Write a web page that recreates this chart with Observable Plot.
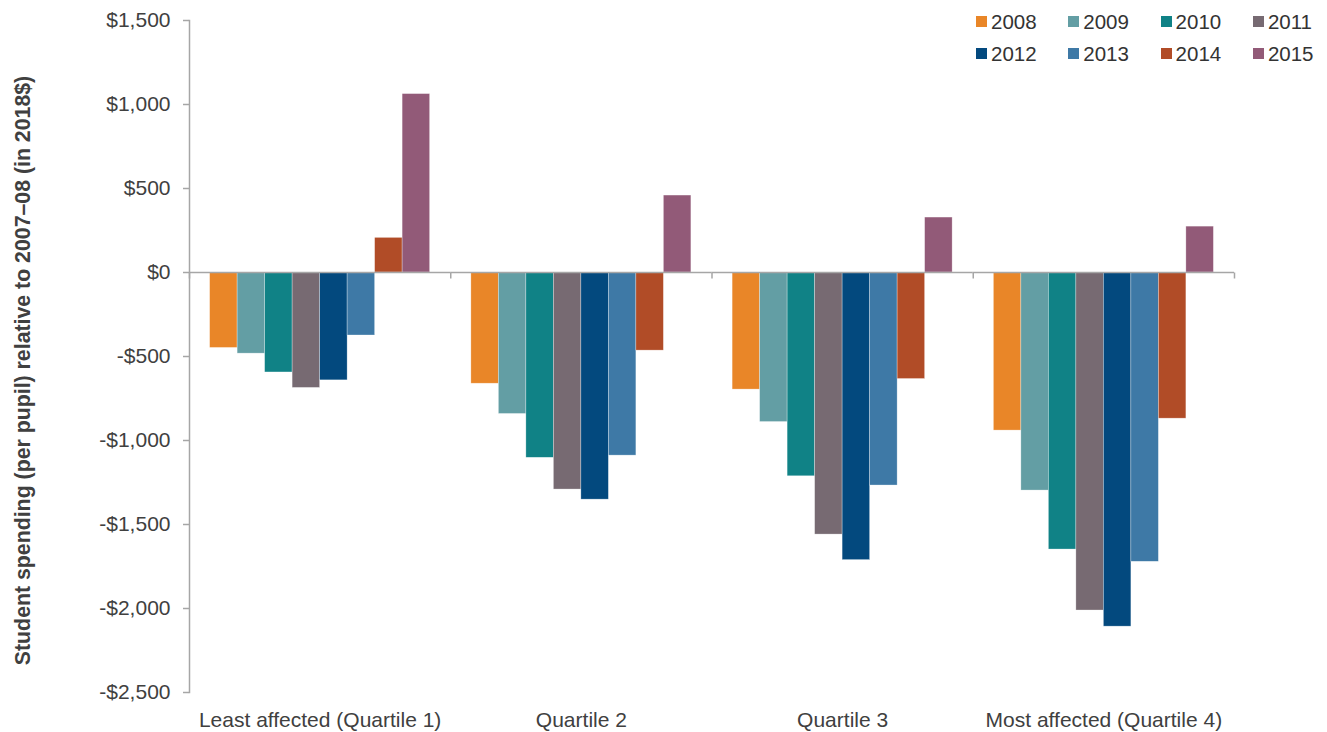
<!DOCTYPE html>
<html>
<head>
<meta charset="utf-8">
<script src="https://cdn.jsdelivr.net/npm/d3@7"></script>
<script src="https://cdn.jsdelivr.net/npm/@observablehq/plot@0.6"></script>
<style>
  body { margin: 0; background: #fff; }
  #chart { position: relative; width: 1327px; height: 732px; font-family: "Liberation Sans", Arial, sans-serif; }
</style>
</head>
<body>
<div id="chart"></div>
<script>
// Quartile groups (by how strongly districts were affected) and school years
const quartiles = ["Least affected (Quartile 1)", "Quartile 2", "Quartile 3", "Most affected (Quartile 4)"];
const years = ["2008", "2009", "2010", "2011", "2012", "2013", "2014", "2015"];

// Change in per-pupil spending relative to 2007–08, in 2018 dollars, one value per year
const quartile1 = [-449, -483, -595, -687, -642, -375, 206, 1062];
const quartile2 = [-662, -842, -1103, -1292, -1352, -1090, -465, 458];
const quartile3 = [-697, -890, -1213, -1560, -1712, -1268, -634, 327];
const quartile4 = [-941, -1298, -1649, -2012, -2108, -1722, -870, 273];

const yearColors = ["#e98628", "#639ea4", "#108286", "#776a72", "#03497e", "#3e79a6", "#b14c27", "#925a78"];
const yTicks = [-2500, -2000, -1500, -1000, -500, 0, 500, 1000, 1500];
const yTitle = "Student spending (per pupil) relative to 2007–08 (in 2018$)";

const series = [quartile1, quartile2, quartile3, quartile4];
const rows = quartiles.flatMap((q, i) =>
  series[i].map((value, j) => ({quartile: q, year: years[j], value}))
);

const axisGray = "#a6a6a6";
const font = "'Liberation Sans', Arial, sans-serif";
const money = d => (d < 0 ? "-" : "") + "$" + d3.format(",")(Math.abs(d));
// short downward tick used on the zero line at each group boundary
const boundaryTick = {draw(ctx) { ctx.moveTo(0, 0); ctx.lineTo(0, 6); }};

const chart = Plot.plot({
  width: 1327,
  height: 732,
  marginLeft: 189,
  marginRight: 93,
  marginTop: 20,
  marginBottom: 40,
  style: {fontFamily: font, fontSize: "21px", color: "#404040", background: "white"},
  fx: {domain: quartiles, padding: 0, round: false},
  x: {domain: years, paddingInner: 0, paddingOuter: 0.75, round: false, axis: null},
  y: {domain: [-2500, 1500]},
  color: {domain: years, range: yearColors},
  marks: [
    Plot.frame({anchor: "left", facetAnchor: "left", stroke: axisGray, strokeWidth: 1.5}),
    Plot.axisY({ticks: yTicks, tickFormat: money, tickSize: 6, tickPadding: 13, stroke: axisGray, strokeWidth: 1.5, label: null}),
    Plot.axisFx({anchor: "bottom", tickSize: 0, tickPadding: 20, label: null}),
    Plot.barY(rows, {fx: "quartile", x: "year", y: "value", fill: "year", stroke: "white", strokeOpacity: 0.5, strokeWidth: 0.6}),
    Plot.ruleY([0], {stroke: axisGray, strokeWidth: 1.5}),
    Plot.dot(quartiles, {fx: d => d, y: () => 0, frameAnchor: "left", symbol: boundaryTick, stroke: axisGray, strokeWidth: 1.5, fill: "none"}),
    Plot.dot(quartiles.slice(-1), {fx: d => d, y: () => 0, frameAnchor: "right", symbol: boundaryTick, stroke: axisGray, strokeWidth: 1.5, fill: "none"}),
    Plot.text([yTitle], {fx: () => quartiles[0], frameAnchor: "left", textAnchor: "middle", rotate: -90, dx: -166, dy: 14, fontWeight: "bold", fontSize: 21.3, fill: "#404040"})
  ]
});

const legend = Plot.legend({color: {type: "ordinal", domain: years, range: yearColors}, legend: "swatches", swatchSize: 11});
Object.assign(legend.style, {
  position: "absolute", left: "976px", top: "6px", margin: "0",
  display: "grid", gridTemplateColumns: "repeat(4, 92.3px)", gridAutoRows: "31.7px",
  fontFamily: font, fontSize: "20.5px", color: "#333"
});
legend.querySelectorAll("svg").forEach(s => { s.style.marginRight = "4px"; });

const root = document.getElementById("chart");
root.appendChild(chart);
root.appendChild(legend);
</script>
</body>
</html>
